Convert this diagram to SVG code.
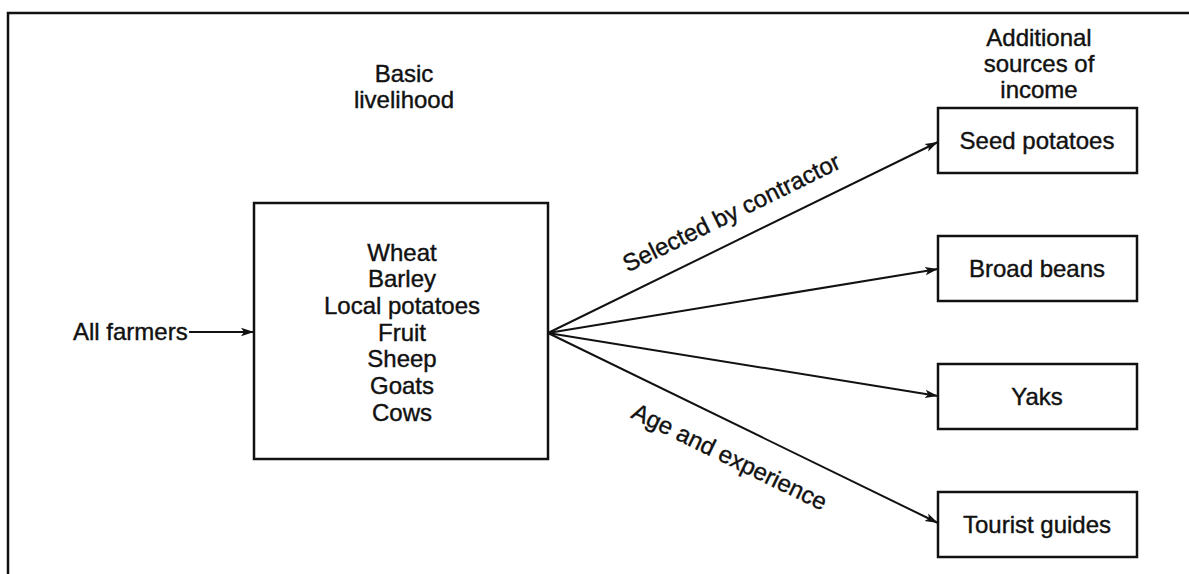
<svg xmlns="http://www.w3.org/2000/svg" width="1189" height="574" viewBox="0 0 1189 574">
  <defs>
    <style>
      text { font-family: "Liberation Sans", Arial, Helvetica, sans-serif; font-size: 24px; fill: #111; stroke: #111; stroke-width: 0.4; }
      .c { text-anchor: middle; }
      .box { fill: #fff; stroke: #111; stroke-width: 2.5; }
      .edge { fill: none; stroke: #111; stroke-width: 2; }
      .frame { fill: none; stroke: #111; stroke-width: 2.5; }
    </style>
    <marker id="arr" markerUnits="userSpaceOnUse" markerWidth="14" markerHeight="10" refX="13" refY="5" orient="auto">
      <path d="M0,0.8 L13,5 L0,9.2 L3,5 Z" fill="#111"/>
    </marker>
  </defs>
  <rect width="1189" height="574" fill="#fff"/>

  <g id="frame">
    <path class="frame" d="M8,574 L8,13 L1189,13"/>
  </g>

  <g id="headers">
    <text class="c" x="404" y="82">Basic</text>
    <text class="c" x="404" y="108">livelihood</text>
    <text class="c" x="1039" y="46">Additional</text>
    <text class="c" x="1039" y="72">sources of</text>
    <text class="c" x="1039" y="98">income</text>
  </g>

  <g id="all-farmers">
    <text x="73" y="340">All farmers</text>
  </g>

  <g id="basic-livelihood">
    <rect class="box" x="254" y="203" width="294" height="256"/>
    <text class="c" x="402" y="261">Wheat</text>
    <text class="c" x="402" y="287">Barley</text>
    <text class="c" x="402" y="314">Local potatoes</text>
    <text class="c" x="402" y="341">Fruit</text>
    <text class="c" x="402" y="367">Sheep</text>
    <text class="c" x="402" y="394">Goats</text>
    <text class="c" x="402" y="421">Cows</text>
  </g>

  <g id="seed-potatoes">
    <rect class="box" x="938" y="108" width="199" height="65"/>
    <text class="c" x="1037" y="149">Seed potatoes</text>
  </g>
  <g id="broad-beans">
    <rect class="box" x="938" y="236" width="199" height="65"/>
    <text class="c" x="1037" y="277">Broad beans</text>
  </g>
  <g id="yaks">
    <rect class="box" x="938" y="364" width="199" height="65"/>
    <text class="c" x="1037" y="405">Yaks</text>
  </g>
  <g id="tourist-guides">
    <rect class="box" x="938" y="492" width="199" height="65"/>
    <text class="c" x="1037" y="533">Tourist guides</text>
  </g>

  <g id="connectors">
    <line class="edge" x1="189" y1="332" x2="254" y2="332" marker-end="url(#arr)"/>
    <line class="edge" x1="548" y1="333" x2="938" y2="142" marker-end="url(#arr)"/>
    <line class="edge" x1="548" y1="333" x2="938" y2="269" marker-end="url(#arr)"/>
    <line class="edge" x1="548" y1="333" x2="938" y2="396" marker-end="url(#arr)"/>
    <line class="edge" x1="548" y1="333" x2="938" y2="523" marker-end="url(#arr)"/>
    <text class="c" transform="translate(735,220) rotate(-26.1)">Selected by contractor</text>
    <text class="c" transform="translate(726,464) rotate(26)">Age and experience</text>
  </g>
</svg>
